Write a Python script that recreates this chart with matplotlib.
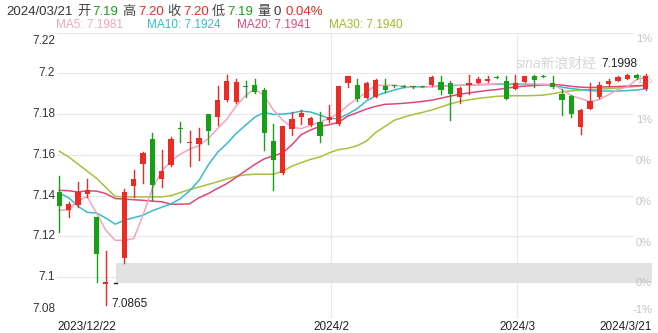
import matplotlib
matplotlib.use("Agg")
import matplotlib.pyplot as plt
import numpy as np

# ---------------- data ----------------
opens = [7.1418, 7.1332, 7.1353, 7.1410, 7.1293, 7.0965, 7.0972, 7.1092, 7.1446, 7.1554,
         7.1680, 7.1484, 7.1549, 7.1732, 7.1660, 7.1655, 7.1800, 7.1786, 7.1868, 7.1859,
         7.1938, 7.1941, 7.1917, 7.1667, 7.1511, 7.1729, 7.1786, 7.1745, 7.1761, 7.1770,
         7.1753, 7.1950, 7.1941, 7.1881, 7.1884, 7.1936, 7.1940, 7.1936, 7.1934, 7.1936,
         7.1941, 7.1957, 7.1953, 7.1884, 7.1943, 7.1953, 7.1962, 7.1980, 7.1962, 7.1925,
         7.1957, 7.1985, 7.1983, 7.1953, 7.1900, 7.1887, 7.1737, 7.1827, 7.1884, 7.1946,
         7.1962, 7.1974, 7.1990, 7.1925]
highs = [7.1495, 7.1370, 7.1467, 7.1480, 7.1293, 7.1130, 7.0972, 7.1435, 7.1528, 7.1615,
         7.1707, 7.1626, 7.1690, 7.1761, 7.1717, 7.1730, 7.1802, 7.1936, 7.1990, 7.1970,
         7.1962, 7.1974, 7.1928, 7.1753, 7.1742, 7.1810, 7.1822, 7.1788, 7.1810, 7.1843,
         7.1938, 7.1987, 7.1974, 7.1956, 7.1970, 7.1974, 7.1945, 7.1942, 7.1940, 7.1940,
         7.1985, 7.1985, 7.1962, 7.1933, 7.1990, 7.1980, 7.1985, 7.1985, 7.1985, 7.1990,
         7.1988, 7.1990, 7.1992, 7.1985, 7.1925, 7.1892, 7.1824, 7.1950, 7.1955, 7.1974,
         7.1987, 7.1995, 7.1998, 7.1996]
lows = [7.1222, 7.1296, 7.1345, 7.1394, 7.0977, 7.0865, 7.0972, 7.1070, 7.1394, 7.1460,
        7.1377, 7.1443, 7.1545, 7.1663, 7.1544, 7.1577, 7.1652, 7.1745, 7.1865, 7.1855,
        7.1884, 7.1905, 7.1626, 7.1426, 7.1507, 7.1696, 7.1753, 7.1740, 7.1663, 7.1761,
        7.1745, 7.1933, 7.1864, 7.1878, 7.1882, 7.1908, 7.1935, 7.1932, 7.1930, 7.1932,
        7.1936, 7.1897, 7.1773, 7.1854, 7.1897, 7.1950, 7.1955, 7.1976, 7.1873, 7.1925,
        7.1955, 7.1933, 7.1980, 7.1930, 7.1794, 7.1786, 7.1704, 7.1825, 7.1880, 7.1940,
        7.1960, 7.1970, 7.1970, 7.1920]
closes = [7.1350, 7.1358, 7.1418, 7.1430, 7.1116, 7.0975, 7.0972, 7.1418, 7.1480, 7.1611,
          7.1451, 7.1520, 7.1680, 7.1727, 7.1665, 7.1685, 7.1717, 7.1868, 7.1961, 7.1957,
          7.1934, 7.1908, 7.1707, 7.1577, 7.1740, 7.1778, 7.1805, 7.1783, 7.1691, 7.1786,
          7.1936, 7.1985, 7.1876, 7.1953, 7.1966, 7.1920, 7.1938, 7.1935, 7.1933, 7.1935,
          7.1982, 7.1917, 7.1900, 7.1930, 7.1953, 7.1974, 7.1974, 7.1978, 7.1876, 7.1953,
          7.1985, 7.1969, 7.1980, 7.1935, 7.1868, 7.1802, 7.1822, 7.1864, 7.1941, 7.1962,
          7.1982, 7.1990, 7.1975, 7.1985]

ma5 = [7.1328, 7.1330, 7.1377, 7.1394, 7.1314, 7.1230, 7.1181, 7.1181, 7.1190, 7.1305,
       7.1435, 7.1520, 7.1570, 7.1604, 7.1628, 7.1645, 7.1680, 7.1729, 7.1775, 7.1840,
       7.1890, 7.1925, 7.1890, 7.1820, 7.1770, 7.1735, 7.1729, 7.1745, 7.1760, 7.1780,
       7.1802, 7.1843, 7.1876, 7.1908, 7.1941, 7.1941, 7.1941, 7.1935, 7.1930, 7.1932,
       7.1935, 7.1935, 7.1940, 7.1941, 7.1943, 7.1945, 7.1946, 7.1948, 7.1950, 7.1950,
       7.1948, 7.1946, 7.1946, 7.1945, 7.1920, 7.1890, 7.1876, 7.1860, 7.1871, 7.1895,
       7.1920, 7.1933, 7.1969, 7.1981]
ma10 = [7.1413, 7.1390, 7.1348, 7.1318, 7.1315, 7.1290, 7.1260, 7.1280, 7.1292, 7.1304,
        7.1326, 7.1343, 7.1360, 7.1385, 7.1424, 7.1474, 7.1550, 7.1613, 7.1655, 7.1705,
        7.1745, 7.1785, 7.1808, 7.1798, 7.1800, 7.1805, 7.1815, 7.1810, 7.1795, 7.1778,
        7.1778, 7.1800, 7.1827, 7.1865, 7.1890, 7.1905, 7.1918, 7.1930, 7.1933, 7.1934,
        7.1935, 7.1938, 7.1940, 7.1941, 7.1943, 7.1944, 7.1945, 7.1946, 7.1946, 7.1946,
        7.1946, 7.1945, 7.1944, 7.1941, 7.1932, 7.1925, 7.1920, 7.1915, 7.1913, 7.1913,
        7.1913, 7.1915, 7.1918, 7.1924]
ma20 = [7.1426, 7.1424, 7.1418, 7.1424, 7.1422, 7.1410, 7.1386, 7.1383, 7.1380, 7.1377,
        7.1373, 7.1370, 7.1358, 7.1358, 7.1360, 7.1390, 7.1410, 7.1436, 7.1459, 7.1490,
        7.1522, 7.1553, 7.1580, 7.1595, 7.1610, 7.1650, 7.1700, 7.1722, 7.1740, 7.1748,
        7.1760, 7.1790, 7.1807, 7.1825, 7.1838, 7.1848, 7.1850, 7.1853, 7.1857, 7.1862,
        7.1868, 7.1878, 7.1888, 7.1897, 7.1904, 7.1910, 7.1916, 7.1920, 7.1927, 7.1933,
        7.1937, 7.1940, 7.1943, 7.1945, 7.1942, 7.1936, 7.1932, 7.1930, 7.1932, 7.1934,
        7.1935, 7.1937, 7.1939, 7.1941]
ma30 = [7.1618, 7.1590, 7.1555, 7.1520, 7.1485, 7.1440, 7.1396, 7.1394, 7.1394, 7.1394,
        7.1394, 7.1394, 7.1400, 7.1415, 7.1430, 7.1442, 7.1455, 7.1468, 7.1482, 7.1495,
        7.1502, 7.1505, 7.1505, 7.1505, 7.1520, 7.1545, 7.1562, 7.1578, 7.1590, 7.1610,
        7.1626, 7.1632, 7.1645, 7.1668, 7.1710, 7.1740, 7.1770, 7.1785, 7.1798, 7.1808,
        7.1820, 7.1835, 7.1850, 7.1862, 7.1870, 7.1877, 7.1882, 7.1887, 7.1889, 7.1890,
        7.1890, 7.1891, 7.1893, 7.1900, 7.1908, 7.1914, 7.1918, 7.1920, 7.1922, 7.1925,
        7.1928, 7.1932, 7.1936, 7.1940]

y_ticks = [7.22, 7.20, 7.18, 7.16, 7.14, 7.12, 7.10, 7.08]
y_tick_labels = ["7.22", "7.2", "7.18", "7.16", "7.14", "7.12", "7.1", "7.08"]
pct_labels = ["1%", "1%", "1%", "0%", "0%", "0%", "0%", "-1%"]
month_idx = [29, 49]
month_labels = ["2024/2", "2024/3"]
first_label = "2023/12/22"
last_label = "2024/3/21"
band = (7.0971, 7.1069)
flat_idx = [6]

# ---------------- style ----------------
RED = "#ee2a24"
GREEN = "#16a016"
C_MA5 = "#f4a3c0"
C_MA10 = "#37bccb"
C_MA20 = "#e2477a"
C_MA30 = "#a6c13c"
GRID = "#e8e8e8"
FONT = ["Liberation Sans", "Noto Sans CJK SC", "DejaVu Sans"]
plt.rcParams["font.family"] = FONT

W, H = 658, 333
fig = plt.figure(figsize=(W / 100, H / 100), dpi=100)
fig.patch.set_facecolor("white")

left_px, right_px, top_px, bot_px = 57, 658, 32.5, 318
ax = fig.add_axes([left_px / W, 1 - bot_px / H, (right_px - left_px) / W, (bot_px - top_px) / H])
n = len(opens)
x = np.arange(n)
step = 9.31
x0 = -(59.3 - left_px) / step
x1 = x0 + (right_px - left_px) / step
ax.set_xlim(x0, x1)
ax.set_ylim(7.08, 7.22)
for s in ax.spines.values():
    s.set_visible(False)
ax.set_xticks([])
ax.set_yticks([])

def px2x(px):
    return x0 + (px - left_px) / step

# grid
gx_end = px2x(632)
for yv in y_ticks:
    ax.plot([x0, gx_end], [yv, yv], color=GRID, lw=0.8, zorder=0)
for mi in month_idx:
    ax.plot([mi + 0.2, mi + 0.2], [7.08, 7.22], color=GRID, lw=0.8, zorder=0)

# gray band
ax.fill_between([px2x(116), px2x(652)], band[0], band[1], color="#e2e2e2", lw=0, zorder=1)

# MA lines
for vals, col in [(ma30, C_MA30), (ma20, C_MA20), (ma10, C_MA10), (ma5, C_MA5)]:
    ax.plot(x, vals, color=col, lw=1.1, zorder=2, solid_joinstyle="round")

# candles
bw = 0.56
for i in range(n):
    o, h, l, c = opens[i], highs[i], lows[i], closes[i]
    if i in flat_idx:
        ax.plot([i - 0.15, i + 0.2], [c, c], color="#222222", lw=1.0, zorder=3)
        continue
    col = RED if c >= o else GREEN
    ax.plot([i, i], [l, h], color=col, lw=1.0, zorder=3)
    bot = min(o, c)
    hgt = max(abs(c - o), 0.0005)
    ax.bar(i, hgt, bottom=bot, width=bw, color=col, edgecolor=col, lw=0, zorder=4)

# axis labels (left)
tr = ax.get_yaxis_transform()
for k, (yv, lab) in enumerate(zip(y_ticks, y_tick_labels)):
    va = "center"
    dy = 0
    if k == 0:
        va, dy = "top", -0.0012
    elif k == len(y_ticks) - 1:
        va, dy = "bottom", 0.0014
    ax.text(-0.003, yv + dy, lab, transform=tr, ha="right", va=va,
            fontsize=8.5, color="#333333", clip_on=False)
# right pct labels
rx = (652 - left_px) / (right_px - left_px)
for k, (yv, lab) in enumerate(zip(y_ticks, pct_labels)):
    if k == len(y_ticks) - 1:
        ax.text(rx, yv + 0.0014, lab, transform=tr, ha="right", va="bottom",
                fontsize=8, color="#c4c4c4", zorder=1)
    else:
        ax.text(rx, yv - 0.0006, lab, transform=tr, ha="right", va="top",
                fontsize=8, color="#c4c4c4", zorder=1)

# watermark
ax.text(px2x(516), 7.2 + (73 - 63) / 2040, "sina新浪财经", fontsize=10, color="#d6d6d6",
        style="italic", ha="left", va="center", zorder=1)

# extreme labels
lo_i = int(np.argmin(lows))
hi_i = int(np.argmax(highs))
ax.text(lo_i + 0.6, lows[lo_i] + 0.0004, f"{lows[lo_i]:.4f}", fontsize=8.5, color="#222222",
        ha="left", va="center", zorder=5)
ax.text(hi_i + 0.1, highs[hi_i] + 0.0018, f"{highs[hi_i]:.4f}", fontsize=8.5, color="#222222",
        ha="right", va="bottom", zorder=5)

# x labels
ty = 1 - 327 / H
fig.text(left_px / W, ty, first_label, fontsize=8.5, color="#222222", ha="left", va="center")
for mi, lab in zip(month_idx, month_labels):
    px = left_px + (mi + 0.2 - x0) * step
    fig.text(px / W, ty, lab, fontsize=8.5, color="#222222", ha="center", va="center")
fig.text(652 / W, ty, last_label, fontsize=8.5, color="#222222", ha="right", va="center")

# header line
hy = 1 - 12 / H
header = [(6, "2024/03/21", "#333333"), (77, "开", "#444444"), (92, "7.19", GREEN),
          (122, "高", "#444444"), (138, "7.20", RED), (167, "收", "#444444"),
          (183, "7.20", RED), (212, "低", "#444444"), (227, "7.19", GREEN),
          (257, "量", "#444444"), (273, "0", "#333333"), (285, "0.04%", RED)]
for px, t, col in header:
    fig.text(px / W, hy, t, fontsize=9.5, color=col, ha="left", va="center")

# MA legend line
ly = 1 - 25 / H
legend = [(56, "MA5: 7.1981", C_MA5), (147, "MA10: 7.1924", C_MA10),
          (237, "MA20: 7.1941", C_MA20), (329, "MA30: 7.1940", "#9cbc2a")]
for px, t, col in legend:
    fig.text(px / W, ly, t, fontsize=8.5, color=col, ha="left", va="center")

fig.savefig("out.png", dpi=100, facecolor="white")
